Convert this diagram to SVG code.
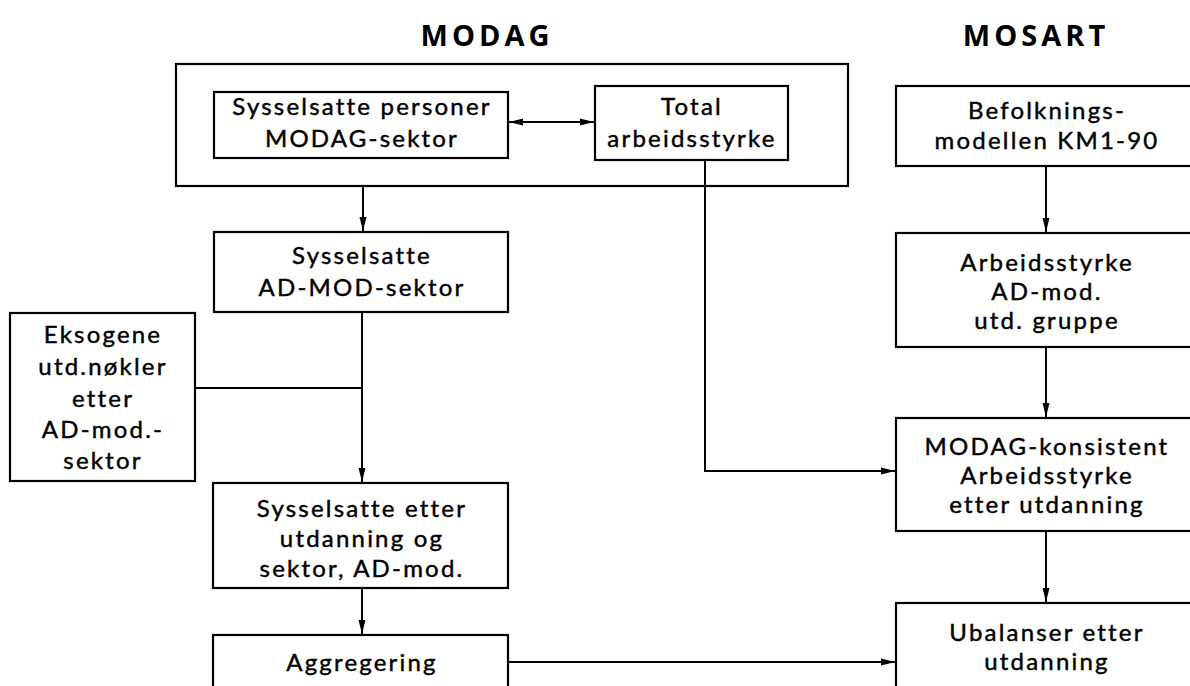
<svg xmlns="http://www.w3.org/2000/svg" width="1190" height="686" viewBox="0 0 1190 686">
  <style>
    .box { fill: #fff; stroke: #000; stroke-width: 2.2; }
    .frame { fill: none; stroke: #000; stroke-width: 2.2; }
    .lbl { font-family: Lato, "Open Sans", sans-serif; font-size: 24px; letter-spacing: 2.2px; text-anchor: middle; fill: #000; stroke: #000; stroke-width: 0.45; }
    .title { font-family: "Open Sans", "Noto Sans", sans-serif; font-size: 29px; font-weight: bold; letter-spacing: 4px; text-anchor: middle; fill: #000; }
    .conn { fill: none; stroke: #000; stroke-width: 2; }
  </style>
  <defs>
    <marker id="arr" viewBox="0 0 14 8" refX="14" refY="4" markerWidth="14" markerHeight="8" markerUnits="userSpaceOnUse" orient="auto-start-reverse">
      <path d="M0,0.5 L14,4 L0,7.5 Z" fill="#000"/>
    </marker>
  </defs>
  <rect width="1190" height="686" fill="#fff"/>

  <text class="title" x="487" y="46">MODAG</text>
  <text class="title" x="1036" y="46">MOSART</text>

  <!-- MODAG frame around the first two boxes -->
  <rect class="frame" id="modag-frame" x="176" y="64" width="672" height="122"/>

  <g id="n-sysselsatte-personer">
    <rect class="box" x="214" y="92" width="294" height="66"/>
    <text class="lbl" x="362" y="115">Sysselsatte personer</text>
    <text class="lbl" x="362" y="147">MODAG-sektor</text>
  </g>
  <g id="n-total">
    <rect class="box" x="595" y="86" width="193" height="74"/>
    <text class="lbl" x="692" y="115">Total</text>
    <text class="lbl" x="692" y="147">arbeidsstyrke</text>
  </g>
  <g id="n-adm-sektor">
    <rect class="box" x="214" y="232" width="294" height="80"/>
    <text class="lbl" x="362" y="264">Sysselsatte</text>
    <text class="lbl" x="362" y="296">AD-MOD-sektor</text>
  </g>
  <g id="n-eksogene">
    <rect class="box" x="10" y="313" width="185" height="168"/>
    <text class="lbl" x="103" y="343">Eksogene</text>
    <text class="lbl" x="103" y="375">utd.nøkler</text>
    <text class="lbl" x="103" y="407">etter</text>
    <text class="lbl" x="103" y="438">AD-mod.-</text>
    <text class="lbl" x="103" y="469">sektor</text>
  </g>
  <g id="n-utd-sektor">
    <rect class="box" x="213" y="483" width="295" height="105"/>
    <text class="lbl" x="362" y="517">Sysselsatte etter</text>
    <text class="lbl" x="362" y="547">utdanning og</text>
    <text class="lbl" x="362" y="577">sektor, AD-mod.</text>
  </g>
  <g id="n-aggregering">
    <rect class="box" x="213" y="635" width="295" height="60"/>
    <text class="lbl" x="362" y="671">Aggregering</text>
  </g>

  <g id="n-befolkning">
    <rect class="box" x="896" y="86" width="310" height="80"/>
    <text class="lbl" x="1047" y="119">Befolknings-</text>
    <text class="lbl" x="1047" y="149">modellen KM1-90</text>
  </g>
  <g id="n-arbeidsstyrke">
    <rect class="box" x="896" y="233" width="310" height="114"/>
    <text class="lbl" x="1047" y="271">Arbeidsstyrke</text>
    <text class="lbl" x="1047" y="300">AD-mod.</text>
    <text class="lbl" x="1047" y="329">utd. gruppe</text>
  </g>
  <g id="n-konsistent">
    <rect class="box" x="896" y="418" width="310" height="113"/>
    <text class="lbl" x="1047" y="455">MODAG-konsistent</text>
    <text class="lbl" x="1047" y="484">Arbeidsstyrke</text>
    <text class="lbl" x="1047" y="513">etter utdanning</text>
  </g>
  <g id="n-ubalanser">
    <rect class="box" x="896" y="603" width="310" height="100"/>
    <text class="lbl" x="1047" y="641">Ubalanser etter</text>
    <text class="lbl" x="1047" y="670">utdanning</text>
  </g>

  <g id="connectors">
    <line class="conn" x1="509" y1="122" x2="594" y2="122" marker-start="url(#arr)" marker-end="url(#arr)"/>
    <line class="conn" x1="363" y1="186" x2="363" y2="231" marker-end="url(#arr)"/>
    <line class="conn" x1="362" y1="312" x2="362" y2="482" marker-end="url(#arr)"/>
    <line class="conn" x1="195" y1="388" x2="362" y2="388"/>
    <line class="conn" x1="362" y1="588" x2="362" y2="634" marker-end="url(#arr)"/>
    <polyline class="conn" points="705,160 705,471 895,471" marker-end="url(#arr)"/>
    <line class="conn" x1="508" y1="662" x2="895" y2="662" marker-end="url(#arr)"/>
    <line class="conn" x1="1046" y1="166" x2="1046" y2="232" marker-end="url(#arr)"/>
    <line class="conn" x1="1046" y1="347" x2="1046" y2="417" marker-end="url(#arr)"/>
    <line class="conn" x1="1046" y1="531" x2="1046" y2="602" marker-end="url(#arr)"/>
  </g>
</svg>
